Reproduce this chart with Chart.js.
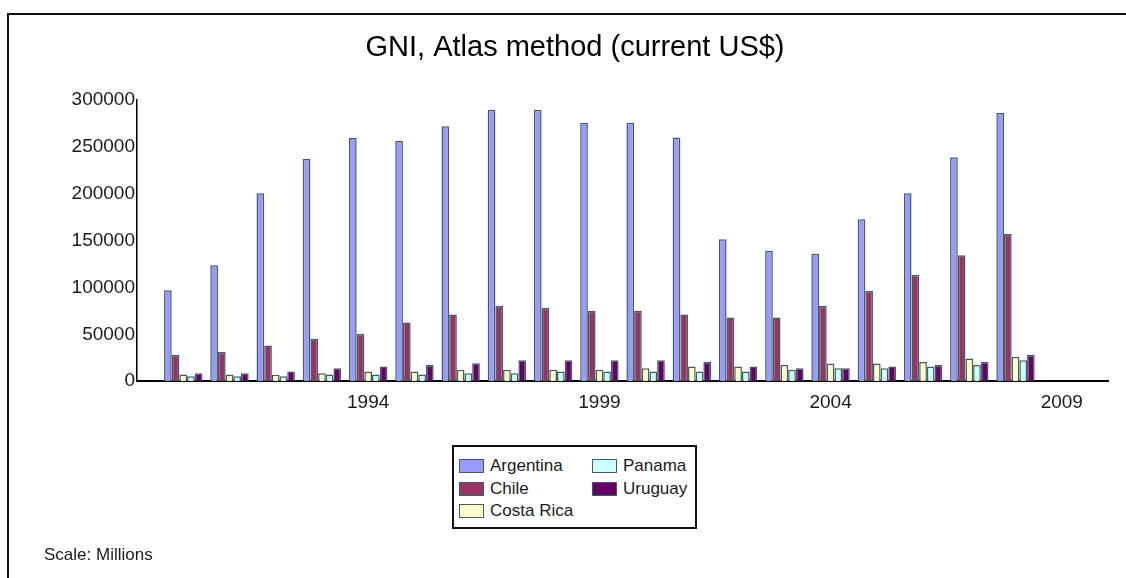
<!DOCTYPE html>
<html>
<head>
<meta charset="utf-8">
<script src="https://cdn.jsdelivr.net/npm/chart.js@4"></script>
<style>
  body { margin: 0; background: #fff; font-family: "Liberation Sans", Arial, sans-serif; }
  #wrap { position: relative; width: 1126px; height: 578px; overflow: hidden; }
  #frame { position: absolute; left: 7px; top: 13px; width: 1200px; height: 700px;
           border-left: 2px solid #111; border-top: 2px solid #111; }
  #myChart { position: absolute; left: 0; top: 0; }
  #legend { position: absolute; left: 452px; top: 445px; width: 241px; height: 80px;
            border: 2px solid #111; background: #fff; }
  .item { position: absolute; font-size: 17px; color: #1a1a1a; line-height: 16px; white-space: nowrap; }
  .item span.box { position: absolute; left: 0; top: 1px; width: 23px; height: 12px; border: 1.5px solid #3f5f5f; }
  .item span.txt { position: absolute; left: 31px; top: 0; }
  #scale { position: absolute; left: 44px; top: 545px; font-size: 17px; color: #1a1a1a; }
</style>
</head>
<body>
<div id="wrap">
  <div id="frame"></div>
  <canvas id="myChart" width="1126" height="578"></canvas>
  <div id="legend"></div>
  <div id="scale">Scale: Millions</div>
</div>
<script>
// axis runs 1989..2010, bars only 1990..2008
let years = ["1989", "1990", "1991", "1992", "1993", "1994", "1995", "1996", "1997", "1998", "1999",
             "2000", "2001", "2002", "2003", "2004", "2005", "2006", "2007", "2008", "2009", "2010"];
let shownYears = ["1994", "1999", "2004", "2009"];
let yTicks = [0, 50000, 100000, 150000, 200000, 250000, 300000];

let argentina = [null, 97000, 123500, 200400, 237000, 259400, 256200, 271900, 289300, 289300, 275400,
                 275400, 259800, 151200, 139100, 135900, 172600, 200400, 238800, 285800, null, null];
let chile     = [null, 27800, 31000, 38100, 45200, 50200, 62600, 71200, 80100, 78300, 75100,
                 75100, 71200, 68000, 68000, 80100, 96100, 113200, 134200, 156900, null, null];
let costaRica = [null, 7100, 7100, 6800, 8500, 10300, 10300, 12100, 12100, 12100, 12100,
                 13900, 15700, 15700, 17400, 18900, 18900, 20600, 24200, 26000, null, null];
let panama    = [null, 5300, 5300, 5300, 7100, 7100, 7100, 8500, 8500, 10300, 10300,
                 10300, 10300, 10300, 12100, 13900, 13900, 15700, 17400, 22400, null, null];
let uruguay   = [null, 8500, 8500, 10300, 13900, 15700, 17400, 19200, 22400, 22400, 22400,
                 22400, 20600, 15700, 13900, 13900, 15700, 17400, 20600, 27800, null, null];

let edge = '#3f5f5f';
let charte = document.getElementById("myChart");
let chart = new Chart(charte, {
  type: 'bar',
  data: {
    labels: years,
    datasets: [
      { label: "Argentina", data: argentina, backgroundColor: '#9999ff' },
      { label: "Chile", data: chile, backgroundColor: '#993366' },
      { label: "Costa Rica", data: costaRica, backgroundColor: '#ffffcc' },
      { label: "Panama", data: panama, backgroundColor: '#ccffff' },
      { label: "Uruguay", data: uruguay, backgroundColor: '#660066' }
    ]
  },
  options: {
    responsive: false,
    animation: false,
    devicePixelRatio: 1,
    layout: { padding: { left: 42, top: 0, right: 18, bottom: 154 } },
    datasets: { bar: { borderColor: edge, borderWidth: 1.5, categoryPercentage: 0.83, barPercentage: 1 } },
    plugins: {
      legend: { display: false },
      tooltip: { enabled: false },
      title: {
        display: true,
        text: 'GNI, Atlas method (current US$)',
        color: '#000',
        font: { family: '"Liberation Sans", Arial', size: 29, weight: 'normal' },
        padding: { top: 31, bottom: 34 }
      }
    },
    scales: {
      x: {
        offset: false,
        grid: { display: false, drawTicks: false },
        border: { display: true, color: '#000', width: 2 },
        ticks: {
          autoSkip: false, maxRotation: 0, padding: 10, color: '#1a1a1a',
          font: { family: '"Liberation Sans", Arial', size: 19 },
          callback: function(v, i) { return shownYears.includes(years[i]) ? years[i] : ''; }
        }
      },
      y: {
        min: 0, max: 300000,
        afterBuildTicks: function(s) { s.ticks = yTicks.map(v => ({ value: v })); },
        afterFit: function(s) { s.width = 95; },
        grid: { display: false, drawTicks: false },
        border: { display: true, color: '#000', width: 1.5 },
        ticks: {
          padding: 2, color: '#1a1a1a',
          font: { family: '"Liberation Sans", Arial', size: 19 },
          callback: function(v) { return String(v); }
        }
      }
    }
  }
});

// legend laid out in columns like the original
let leg = document.getElementById("legend");
chart.data.datasets.forEach(function(ds, i) {
  let col = i < 3 ? 0 : 1, row = i % 3;
  let it = document.createElement("div");
  it.className = "item";
  it.style.left = (col === 0 ? 5 : 138) + "px";
  it.style.top = (11 + row * 22.5) + "px";
  it.innerHTML = '<span class="box" style="background:' + ds.backgroundColor + '"></span><span class="txt">' + ds.label + '</span>';
  leg.appendChild(it);
});
</script>
</body>
</html>
